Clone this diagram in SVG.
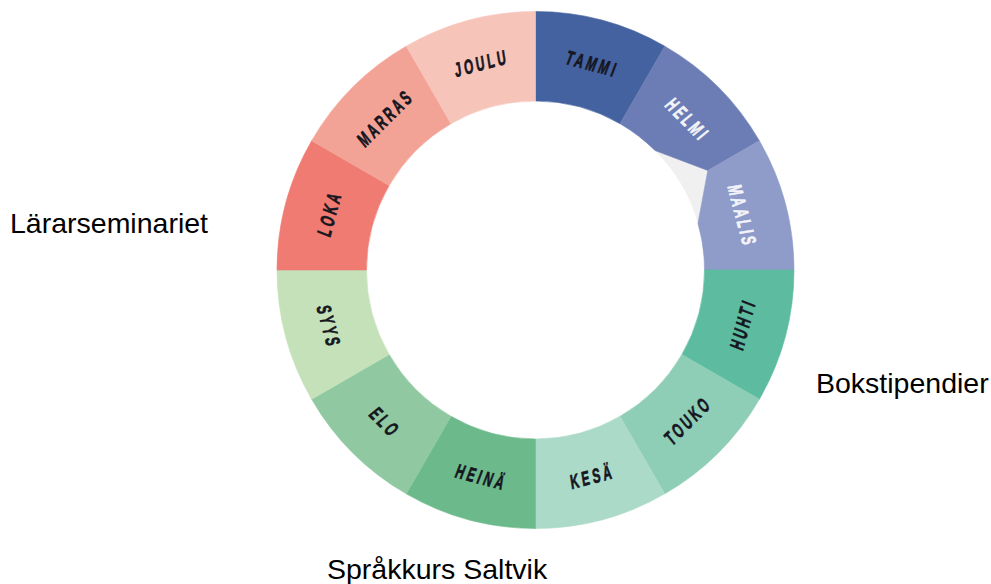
<svg xmlns="http://www.w3.org/2000/svg" width="991" height="584" viewBox="0 0 991 584">
<style>
.seg{stroke-width:0.6}
.m{font-family:"Liberation Sans","Arial",sans-serif;font-weight:bold;font-size:20px;letter-spacing:5px;fill:#15161f;stroke:#15161f;stroke-width:0.7px;text-anchor:middle}
.w{fill:#f3f4f9;stroke:#f3f4f9}
.lab{font-family:"Liberation Sans","Arial",sans-serif;font-size:28.5px;fill:#000}
</style>
<rect width="991" height="584" fill="#fff"/>
<g id="wheel">
<path id="notch" d="M655 150.5 L707.8 170.5 L697.95 223.4 A169 169 0 0 0 655 150.5 Z" fill="#f0f0f0"/>
<g id="tammi"><path class="seg" d="M535.5 11.5 A258.5 258.5 0 0 1 664.75 46.13 L620 123.64 A169 169 0 0 0 535.5 101 Z" fill="#4562a0" stroke="#4562a0"/><text class="m" x="2.5" y="7.2" transform="translate(590.89 63.29) rotate(15) skewX(-6) scale(0.6 1)">TAMMI</text></g>
<g id="helmi"><path class="seg" d="M664.75 46.13 A258.5 258.5 0 0 1 759.37 140.75 L707.8 170.5 L655 150.5 A169 169 0 0 0 620 123.64 Z" fill="#6c7db5" stroke="#6c7db5"/><text class="m w" x="2.5" y="7.2" transform="translate(686.82 118.68) rotate(45) skewX(-6) scale(0.6 1)">HELMI</text></g>
<g id="maalis"><path class="seg" d="M759.37 140.75 A258.5 258.5 0 0 1 794 270 L704.5 270 A169 169 0 0 0 697.95 223.4 L707.8 170.5 Z" fill="#8f9bc8" stroke="#8f9bc8"/><text class="m w" x="2.5" y="7.2" transform="translate(742.21 214.61) rotate(75) skewX(-6) scale(0.6 1)">MAALIS</text></g>
<g id="huhti"><path class="seg" d="M794 270 A258.5 258.5 0 0 1 759.37 399.25 L681.86 354.5 A169 169 0 0 0 704.5 270 Z" fill="#5dbc9f" stroke="#5dbc9f"/><text class="m" x="2.5" y="7.2" transform="translate(742.21 325.39) rotate(-75) skewX(-6) scale(0.6 1)">HUHTI</text></g>
<g id="touko"><path class="seg" d="M759.37 399.25 A258.5 258.5 0 0 1 664.75 493.87 L620 416.36 A169 169 0 0 0 681.86 354.5 Z" fill="#8ecdb6" stroke="#8ecdb6"/><text class="m" x="2.5" y="7.2" transform="translate(686.82 421.32) rotate(-45) skewX(-6) scale(0.6 1)">TOUKO</text></g>
<g id="kesa"><path class="seg" d="M664.75 493.87 A258.5 258.5 0 0 1 535.5 528.5 L535.5 439 A169 169 0 0 0 620 416.36 Z" fill="#acdac8" stroke="#acdac8"/><text class="m" x="2.5" y="7.2" transform="translate(590.89 476.71) rotate(-15) skewX(-6) scale(0.6 1)">KESÄ</text></g>
<g id="heina"><path class="seg" d="M535.5 528.5 A258.5 258.5 0 0 1 406.25 493.87 L451 416.36 A169 169 0 0 0 535.5 439 Z" fill="#6cba8b" stroke="#6cba8b"/><text class="m" x="2.5" y="7.2" transform="translate(480.11 476.71) rotate(15) skewX(-6) scale(0.6 1)">HEINÄ</text></g>
<g id="elo"><path class="seg" d="M406.25 493.87 A258.5 258.5 0 0 1 311.63 399.25 L389.14 354.5 A169 169 0 0 0 451 416.36 Z" fill="#90c9a1" stroke="#90c9a1"/><text class="m" x="2.5" y="7.2" transform="translate(384.18 421.32) rotate(45) skewX(-6) scale(0.6 1)">ELO</text></g>
<g id="syys"><path class="seg" d="M311.63 399.25 A258.5 258.5 0 0 1 277 270 L366.5 270 A169 169 0 0 0 389.14 354.5 Z" fill="#c4e1b9" stroke="#c4e1b9"/><text class="m" x="2.5" y="7.2" transform="translate(328.79 325.39) rotate(75) skewX(-6) scale(0.6 1)">SYYS</text></g>
<g id="loka"><path class="seg" d="M277 270 A258.5 258.5 0 0 1 311.63 140.75 L389.14 185.5 A169 169 0 0 0 366.5 270 Z" fill="#ef7b72" stroke="#ef7b72"/><text class="m" x="2.5" y="7.2" transform="translate(328.79 214.61) rotate(-75) skewX(-6) scale(0.6 1)">LOKA</text></g>
<g id="marras"><path class="seg" d="M311.63 140.75 A258.5 258.5 0 0 1 406.25 46.13 L451 123.64 A169 169 0 0 0 389.14 185.5 Z" fill="#f3a396" stroke="#f3a396"/><text class="m" x="2.5" y="7.2" transform="translate(384.18 118.68) rotate(-45) skewX(-6) scale(0.6 1)">MARRAS</text></g>
<g id="joulu"><path class="seg" d="M406.25 46.13 A258.5 258.5 0 0 1 535.5 11.5 L535.5 101 A169 169 0 0 0 451 123.64 Z" fill="#f7c4ba" stroke="#f7c4ba"/><text class="m" x="2.5" y="7.2" transform="translate(480.11 63.29) rotate(-15) skewX(-6) scale(0.6 1)">JOULU</text></g>
</g>
<g id="labels">
<text id="lararseminariet" class="lab" x="10" y="233">Lärarseminariet</text>
<text id="bokstipendier" class="lab" x="816" y="393">Bokstipendier</text>
<text id="sprakkurs" class="lab" x="327" y="579">Språkkurs Saltvik</text>
</g>
</svg>
